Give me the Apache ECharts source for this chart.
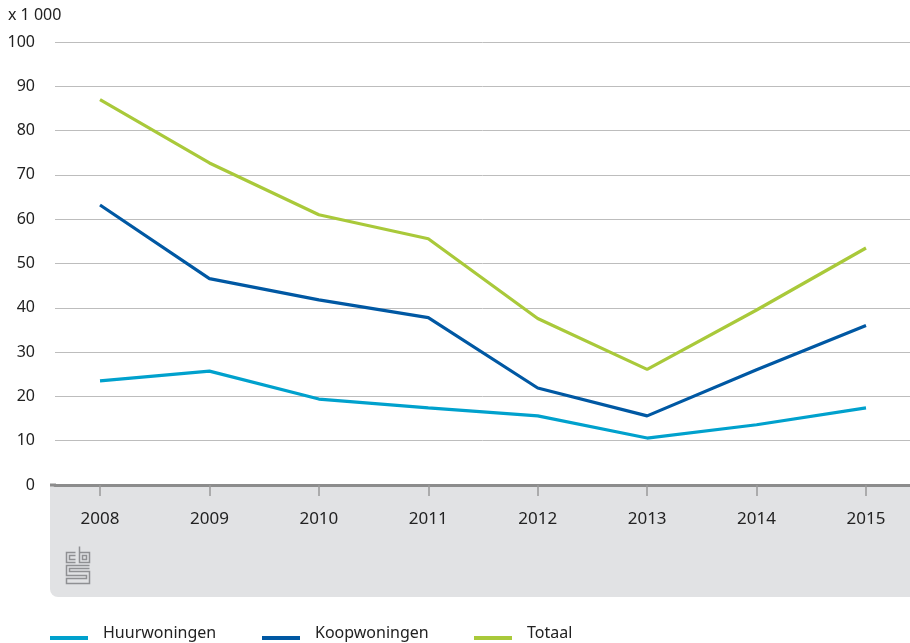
<!DOCTYPE html>
<html>
<head>
<meta charset="utf-8">
<script src="https://cdn.jsdelivr.net/npm/echarts@6/dist/echarts.min.js"></script>
<style>
html, body { margin: 0; padding: 0; background: #fff; }
#chart { width: 910px; height: 643px; }
</style>
</head>
<body>
<div id="chart"></div>
<script>
var years = ['2008', '2009', '2010', '2011', '2012', '2013', '2014', '2015'];
var huurwoningen = [23.5, 25.7, 19.4, 17.4, 15.6, 10.6, 13.6, 17.4];
var koopwoningen = [63.2, 46.6, 41.8, 37.8, 21.9, 15.6, 26.0, 36.0];
var totaal = [87.0, 72.7, 61.0, 55.6, 37.6, 26.1, 39.5, 53.5];
var seriesNames = ['Huurwoningen', 'Koopwoningen', 'Totaal'];
var seriesColors = ['#00a1cd', '#0058a3', '#a9c93a'];

var FONT = 'Noto Sans';
var chart = echarts.init(document.getElementById('chart'));

function lineSeries(idx, data) {
	return {
		name: seriesNames[idx],
		type: 'line',
		xAxisIndex: 1,
		yAxisIndex: 1,
		data: data,
		symbol: 'none',
		lineStyle: { width: 3.2, color: seriesColors[idx] },
		itemStyle: { color: seriesColors[idx] },
		z: 3
	};
}

// CBS logo, rough outline
var logoStroke = { stroke: '#8f9093', lineWidth: 1.5, fill: null };
var logo = {
	type: 'group',
	left: 64,
	top: 544,
	children: [
		{ type: 'polyline', shape: { points: [[10, 6], [1, 6], [1, 16], [10, 16]] }, style: logoStroke },
		{ type: 'polyline', shape: { points: [[10, 9], [4, 9], [4, 13], [10, 13]] }, style: logoStroke },
		{ type: 'polyline', shape: { points: [[14, 0], [14, 16], [24, 16], [24, 6], [14, 6]] }, style: logoStroke },
		{ type: 'rect', shape: { x: 17, y: 9, width: 4, height: 4 }, style: logoStroke },
		{ type: 'polyline', shape: { points: [[24, 19], [1, 19], [1, 29], [21, 29], [21, 32], [1, 32], [1, 37], [24, 37], [24, 25], [4, 25], [4, 22], [24, 22]] }, style: logoStroke }
	]
};

var option = {
	animation: false,
	textStyle: { fontFamily: FONT },
	graphic: [
		{
			type: 'rect',
			left: 50,
			top: 485,
			shape: { width: 860, height: 112, r: [0, 0, 0, 8] },
			style: { fill: '#e1e2e4' },
			z: -10
		},
		{
			type: 'rect',
			left: 50,
			top: 483.5,
			shape: { width: 6, height: 3 },
			style: { fill: '#8c8c8c' },
			z: 10
		},
		{
			type: 'text',
			left: 8,
			top: 7,
			style: { text: 'x 1 000', fill: '#222', font: '16px "Noto Sans"' }
		},
		logo
	],
	legend: {
		left: 50,
		top: 625,
		padding: 0,
		// bar sits in the lower part of the icon box, text stays a bit higher
		icon: 'path://M0,0 L0,0 M0,10 L38,10 L38,14 L0,14 Z',
		itemWidth: 38,
		itemHeight: 14,
		itemGap: 29,
		data: seriesNames,
		textStyle: { fontFamily: FONT, fontSize: 16, lineHeight: 14, color: '#222', width: 130, padding: [0, 0, 0, 10] }
	},
	grid: [
		{ left: 55, right: 0, top: 42, bottom: 158 },
		{ left: 100, right: 44, top: 42, bottom: 158 }
	],
	xAxis: [
		{
			gridIndex: 0,
			type: 'value',
			min: 0,
			max: 1,
			axisLine: { show: true, lineStyle: { color: '#8c8c8c', width: 3 } },
			axisTick: { show: false },
			axisLabel: { show: false },
			splitLine: { show: false }
		},
		{
			gridIndex: 1,
			type: 'category',
			data: years,
			boundaryGap: false,
			axisLine: { show: false },
			axisTick: { show: true, length: 11, lineStyle: { color: '#999', width: 1.5 } },
			axisLabel: { fontFamily: FONT, fontSize: 17, color: '#222', margin: 26 },
			splitLine: { show: false }
		}
	],
	yAxis: [
		{
			gridIndex: 0,
			type: 'value',
			min: 0,
			max: 100,
			interval: 10,
			axisLine: { show: false },
			axisTick: { show: false },
			axisLabel: { fontFamily: FONT, fontSize: 16, color: '#222', margin: 20 },
			splitLine: { lineStyle: { color: '#bdbdbd', width: 1 } }
		},
		{
			gridIndex: 1,
			type: 'value',
			min: 0,
			max: 100,
			interval: 10,
			show: false
		}
	],
	series: [
		lineSeries(0, huurwoningen),
		lineSeries(1, koopwoningen),
		lineSeries(2, totaal)
	]
};

chart.setOption(option);
</script>
</body>
</html>
